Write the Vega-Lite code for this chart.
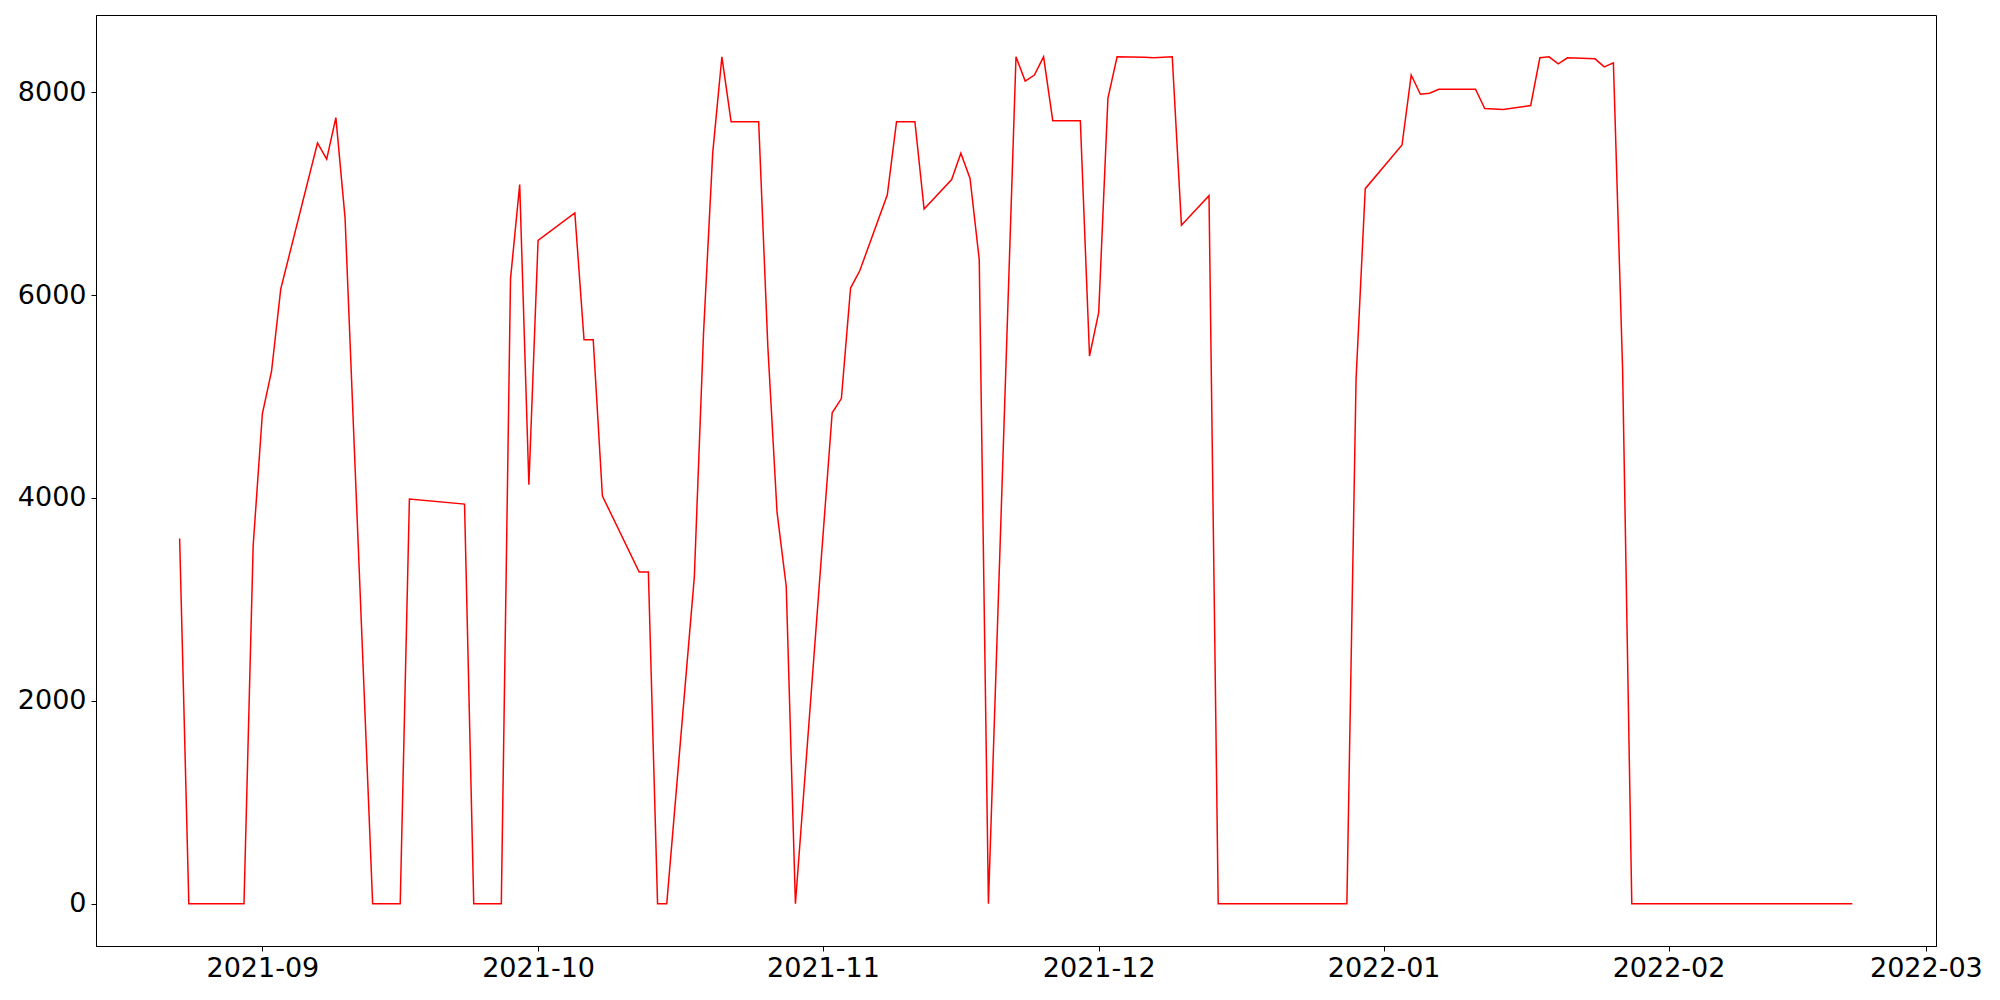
{
  "$schema": "https://vega.github.io/schema/vega-lite/v6.json",
  "width": 1840,
  "height": 931,
  "autosize": {"type": "none"},
  "padding": {"left": 96, "top": 15, "right": 64, "bottom": 54},
  "background": "white",
  "config": {
    "font": "DejaVu Sans",
    "view": {"stroke": "black", "strokeWidth": 1},
    "axis": {
      "grid": false,
      "domainColor": "black",
      "domainWidth": 1,
      "tickColor": "black",
      "tickWidth": 1,
      "tickSize": 5,
      "labelColor": "black",
      "labelFont": "DejaVu Sans",
      "labelFontSize": 27,
      "labelPadding": 4,
      "title": null
    }
  },
  "data": {
    "values": [
      {"date": "2021-08-23", "value": 3600},
      {"date": "2021-08-24", "value": 0},
      {"date": "2021-08-25", "value": 0},
      {"date": "2021-08-26", "value": 0},
      {"date": "2021-08-27", "value": 0},
      {"date": "2021-08-30", "value": 0},
      {"date": "2021-08-31", "value": 3530},
      {"date": "2021-09-01", "value": 4830},
      {"date": "2021-09-02", "value": 5250},
      {"date": "2021-09-03", "value": 6060},
      {"date": "2021-09-07", "value": 7500},
      {"date": "2021-09-08", "value": 7340},
      {"date": "2021-09-09", "value": 7750},
      {"date": "2021-09-10", "value": 6760},
      {"date": "2021-09-13", "value": 0},
      {"date": "2021-09-14", "value": 0},
      {"date": "2021-09-15", "value": 0},
      {"date": "2021-09-16", "value": 0},
      {"date": "2021-09-17", "value": 3990},
      {"date": "2021-09-23", "value": 3940},
      {"date": "2021-09-24", "value": 0},
      {"date": "2021-09-27", "value": 0},
      {"date": "2021-09-28", "value": 6160},
      {"date": "2021-09-29", "value": 7090},
      {"date": "2021-09-30", "value": 4130},
      {"date": "2021-10-01", "value": 6540},
      {"date": "2021-10-05", "value": 6810},
      {"date": "2021-10-06", "value": 5560},
      {"date": "2021-10-07", "value": 5560},
      {"date": "2021-10-08", "value": 4020},
      {"date": "2021-10-12", "value": 3270},
      {"date": "2021-10-13", "value": 3270},
      {"date": "2021-10-14", "value": 0},
      {"date": "2021-10-15", "value": 0},
      {"date": "2021-10-18", "value": 3220},
      {"date": "2021-10-19", "value": 5620},
      {"date": "2021-10-20", "value": 7400},
      {"date": "2021-10-21", "value": 8350},
      {"date": "2021-10-22", "value": 7710},
      {"date": "2021-10-25", "value": 7710},
      {"date": "2021-10-26", "value": 5490},
      {"date": "2021-10-27", "value": 3860},
      {"date": "2021-10-28", "value": 3130},
      {"date": "2021-10-29", "value": 0},
      {"date": "2021-11-02", "value": 4840},
      {"date": "2021-11-03", "value": 4980},
      {"date": "2021-11-04", "value": 6070},
      {"date": "2021-11-05", "value": 6240},
      {"date": "2021-11-08", "value": 6990},
      {"date": "2021-11-09", "value": 7710},
      {"date": "2021-11-10", "value": 7710},
      {"date": "2021-11-11", "value": 7710},
      {"date": "2021-11-12", "value": 6850},
      {"date": "2021-11-15", "value": 7140},
      {"date": "2021-11-16", "value": 7400},
      {"date": "2021-11-17", "value": 7150},
      {"date": "2021-11-18", "value": 6350},
      {"date": "2021-11-19", "value": 0},
      {"date": "2021-11-22", "value": 8350},
      {"date": "2021-11-23", "value": 8110},
      {"date": "2021-11-24", "value": 8170},
      {"date": "2021-11-25", "value": 8350},
      {"date": "2021-11-26", "value": 7720},
      {"date": "2021-11-29", "value": 7720},
      {"date": "2021-11-30", "value": 5400},
      {"date": "2021-12-01", "value": 5830},
      {"date": "2021-12-02", "value": 7940},
      {"date": "2021-12-03", "value": 8350},
      {"date": "2021-12-06", "value": 8345},
      {"date": "2021-12-07", "value": 8340},
      {"date": "2021-12-08", "value": 8345},
      {"date": "2021-12-09", "value": 8350},
      {"date": "2021-12-10", "value": 6690},
      {"date": "2021-12-13", "value": 6980},
      {"date": "2021-12-14", "value": 0},
      {"date": "2021-12-15", "value": 0},
      {"date": "2021-12-16", "value": 0},
      {"date": "2021-12-17", "value": 0},
      {"date": "2021-12-20", "value": 0},
      {"date": "2021-12-21", "value": 0},
      {"date": "2021-12-22", "value": 0},
      {"date": "2021-12-23", "value": 0},
      {"date": "2021-12-24", "value": 0},
      {"date": "2021-12-27", "value": 0},
      {"date": "2021-12-28", "value": 0},
      {"date": "2021-12-29", "value": 5170},
      {"date": "2021-12-30", "value": 7050},
      {"date": "2022-01-03", "value": 7480},
      {"date": "2022-01-04", "value": 8170},
      {"date": "2022-01-05", "value": 7980},
      {"date": "2022-01-06", "value": 7990},
      {"date": "2022-01-07", "value": 8030},
      {"date": "2022-01-10", "value": 8030},
      {"date": "2022-01-11", "value": 8030},
      {"date": "2022-01-12", "value": 7840},
      {"date": "2022-01-13", "value": 7835},
      {"date": "2022-01-14", "value": 7830},
      {"date": "2022-01-17", "value": 7870},
      {"date": "2022-01-18", "value": 8340},
      {"date": "2022-01-19", "value": 8350},
      {"date": "2022-01-20", "value": 8280},
      {"date": "2022-01-21", "value": 8340},
      {"date": "2022-01-24", "value": 8330},
      {"date": "2022-01-25", "value": 8250},
      {"date": "2022-01-26", "value": 8290},
      {"date": "2022-01-27", "value": 5270},
      {"date": "2022-01-28", "value": 0},
      {"date": "2022-01-31", "value": 0},
      {"date": "2022-02-01", "value": 0},
      {"date": "2022-02-02", "value": 0},
      {"date": "2022-02-03", "value": 0},
      {"date": "2022-02-04", "value": 0},
      {"date": "2022-02-07", "value": 0},
      {"date": "2022-02-08", "value": 0},
      {"date": "2022-02-09", "value": 0},
      {"date": "2022-02-10", "value": 0},
      {"date": "2022-02-11", "value": 0},
      {"date": "2022-02-14", "value": 0},
      {"date": "2022-02-15", "value": 0},
      {"date": "2022-02-16", "value": 0},
      {"date": "2022-02-17", "value": 0},
      {"date": "2022-02-18", "value": 0},
      {"date": "2022-02-21", "value": 0}
    ]
  },
  "mark": {"type": "line", "color": "red", "strokeWidth": 1.5, "clip": true},
  "encoding": {
    "x": {
      "field": "date",
      "type": "temporal",
      "scale": {
        "type": "utc",
        "domain": [
          {"year": 2021, "month": 8, "date": 13, "hours": 21, "minutes": 36, "utc": true},
          {"year": 2022, "month": 3, "date": 2, "hours": 2, "minutes": 24, "utc": true}
        ],
        "nice": false
      },
      "axis": {
        "values": [
          {"year": 2021, "month": 9, "date": 1, "utc": true},
          {"year": 2021, "month": 10, "date": 1, "utc": true},
          {"year": 2021, "month": 11, "date": 1, "utc": true},
          {"year": 2021, "month": 12, "date": 1, "utc": true},
          {"year": 2022, "month": 1, "date": 1, "utc": true},
          {"year": 2022, "month": 2, "date": 1, "utc": true},
          {"year": 2022, "month": 3, "date": 1, "utc": true}
        ],
        "labelExpr": "utcFormat(datum.value, '%Y-%m')",
        "labelFlush": false,
        "labelOverlap": false
      }
    },
    "y": {
      "field": "value",
      "type": "quantitative",
      "scale": {"domain": [-417, 8762], "nice": false, "zero": false},
      "axis": {
        "values": [0, 2000, 4000, 6000, 8000],
        "format": "d",
        "labelPadding": 5
      }
    }
  }
}
